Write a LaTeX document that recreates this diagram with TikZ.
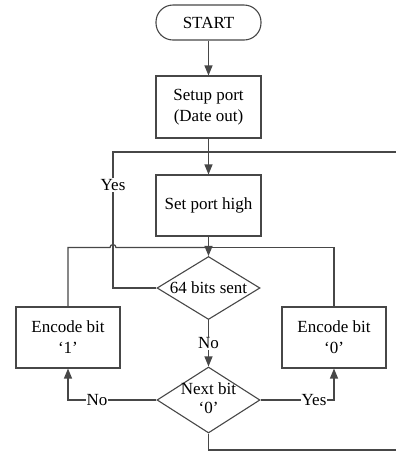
\documentclass[tikz,border=0pt]{standalone}
\usepackage{fontspec}
\setmainfont{Liberation Serif}
\usetikzlibrary{shapes.geometric,arrows.meta}
\begin{document}
\begin{tikzpicture}[x=1pt,y=-1pt,
  font=\fontsize{17}{21}\selectfont,
  line/.style={draw=black!72, line width=1.2pt},
  arr/.style={line, -{Triangle[length=10pt,width=8pt]}},
  box/.style={draw=black!72, line width=1.1pt, rectangle, minimum width=105pt, minimum height=61pt, inner sep=0pt, align=center},
  term/.style={draw=black!72, line width=1.1pt, rectangle, rounded corners=17pt, minimum width=105pt, minimum height=35pt, inner sep=0pt},
  dia/.style={draw=black!72, line width=1.1pt, diamond, aspect=1.6, minimum width=103pt, minimum height=63pt, inner sep=0pt},
  lab/.style={fill=white, inner sep=1pt}]
\useasboundingbox (0,0) rectangle (396,451);
\node[term] (start) at (208.5,22.5) {START};
\node[box, minimum height=62pt] (setup) at (208.5,107) {Setup port\\(Date out)};
\node[box] (high) at (208.5,205.5) {Set port high};
\node[dia] (bits) at (208.5,288) {\makebox[0pt]{64 bits sent}};
\node[dia, minimum height=66pt] (next) at (208.5,400) {\makebox[0pt]{\raisebox{-3pt}{\begin{tabular}{@{}c@{}}Next bit\\[-2pt]‘0’\end{tabular}}}};
\node[box, minimum width=104pt] (enc1) at (68,337.5) {Encode bit\\‘1’};
\node[box, minimum width=104pt] (enc0) at (334,337.5) {Encode bit\\‘0’};
\coordinate (topR) at (396,152);
\coordinate (botR) at (396,450);
\coordinate (join) at (208.5,247.5);
\draw[arr] (start) -- (setup);
\draw[arr] (setup) -- (high);
\draw[arr] (high) -- (bits);
\draw[line] (enc1.north) -- (68,247.5) -- (110,247.5) arc[start angle=180,end angle=0,radius=3pt] -- (join);
\draw[line] (enc0.north) -- (334,247.5) -- (join);
\draw[line] (bits.west) -- (113,288) -- (113,152) -- (topR);
\node[lab] at (113,185) {Yes};
\draw[arr] (bits.south) -- (next.north) node[lab, midway] {No};
\draw[arr] (next.west) -- (68,400) -- (enc1.south);
\node[lab] at (97,400) {No};
\draw[arr] (next.east) -- (334,400) -- (enc0.south);
\node[lab] at (314,400) {Yes};
\draw[line] (next.south) -- (208.5,450) -- (botR);
\end{tikzpicture}
\end{document}
